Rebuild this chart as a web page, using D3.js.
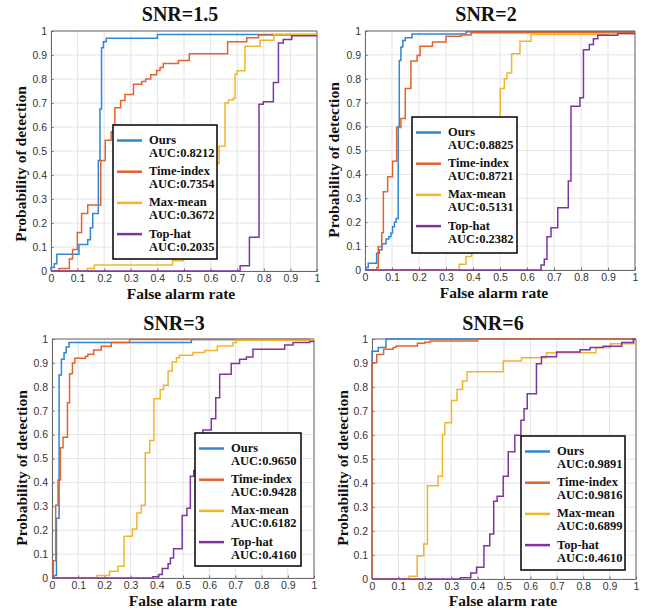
<!DOCTYPE html>
<html>
<head>
<meta charset="utf-8">
<script src="https://cdn.jsdelivr.net/npm/d3@7"></script>
<style>
  html, body { margin: 0; padding: 0; background: #fff; }
  svg { display: block; }
</style>
</head>
<body>
<script>
// ---------------- DATA ----------------
const panelTitles = ["SNR=1.5", "SNR=2", "SNR=3", "SNR=6"];
const methodNames = ["Ours", "Time-index", "Max-mean", "Top-hat"];
const aucValues = [
  ["0.8212", "0.7354", "0.3672", "0.2035"],
  ["0.8825", "0.8721", "0.5131", "0.2382"],
  ["0.9650", "0.9428", "0.6182", "0.4160"],
  ["0.9891", "0.9816", "0.6899", "0.4610"]
];
const tickValues = [0, 0.1, 0.2, 0.3, 0.4, 0.5, 0.6, 0.7, 0.8, 0.9, 1];
const tickLabels = ["0", "0.1", "0.2", "0.3", "0.4", "0.5", "0.6", "0.7", "0.8", "0.9", "1"];
const xLabel = "False alarm rate";
const yLabel = "Probability of detection";

// ROC vertices [false alarm rate, detection probability]; step after each vertex
const s15Ours = [[0,0],[0,0.015],[0.012,0.03],[0.022,0.07],[0.105,0.11],[0.138,0.13],[0.148,0.18],[0.157,0.24],[0.178,0.46],[0.184,0.675],[0.19,0.93],[0.197,0.955],[0.208,0.97],[0.40,0.985],[1,0.985]];
const s15Time = [[0,0],[0.03,0.01],[0.069,0.05],[0.081,0.09],[0.099,0.16],[0.115,0.24],[0.138,0.275],[0.187,0.46],[0.204,0.545],[0.226,0.58],[0.24,0.68],[0.262,0.71],[0.278,0.735],[0.31,0.778],[0.341,0.79],[0.356,0.80],[0.375,0.818],[0.397,0.835],[0.41,0.848],[0.422,0.865],[0.479,0.877],[0.52,0.905],[0.664,0.955],[0.736,0.972],[0.78,0.983],[1,0.983]];
const s15Max = [[0,0],[0.137,0.01],[0.163,0.025],[0.457,0.043],[0.497,0.05],[0.55,0.1],[0.59,0.25],[0.62,0.448],[0.632,0.52],[0.654,0.70],[0.667,0.712],[0.685,0.72],[0.692,0.82],[0.70,0.834],[0.729,0.936],[0.786,0.961],[0.838,0.985],[1,0.985]];
const s15Top = [[0,0],[0.711,0.022],[0.746,0.141],[0.782,0.695],[0.798,0.705],[0.836,0.785],[0.855,0.95],[0.873,0.965],[0.905,0.98],[1,0.98]];

const s2Ours = [[0,0],[0.004,0.01],[0.012,0.028],[0.043,0.07],[0.053,0.085],[0.063,0.11],[0.078,0.13],[0.088,0.139],[0.096,0.155],[0.102,0.181],[0.109,0.2],[0.115,0.216],[0.123,0.6],[0.127,0.877],[0.133,0.933],[0.14,0.96],[0.149,0.972],[0.174,0.987],[0.374,0.997],[1,0.997]];
const s2Time = [[0,0],[0.044,0.01],[0.049,0.097],[0.062,0.156],[0.068,0.327],[0.084,0.39],[0.102,0.455],[0.117,0.596],[0.133,0.634],[0.149,0.759],[0.17,0.875],[0.193,0.898],[0.204,0.936],[0.25,0.954],[0.3,0.978],[0.356,0.983],[0.393,0.993],[1,0.993]];
const s2Max = [[0,0],[0.349,0.024],[0.374,0.056],[0.395,0.074],[0.43,0.12],[0.46,0.3],[0.485,0.5],[0.501,0.759],[0.516,0.80],[0.526,0.824],[0.543,0.905],[0.574,0.957],[0.615,0.985],[0.899,0.99],[1,0.99]];
const s2Top = [[0,0],[0.652,0.021],[0.664,0.045],[0.674,0.139],[0.689,0.177],[0.714,0.26],[0.753,0.372],[0.763,0.685],[0.796,0.721],[0.809,0.922],[0.831,0.943],[0.846,0.968],[0.862,0.982],[0.936,0.99],[1,0.99]];

const s3Ours = [[0,0],[0.008,0.01],[0.017,0.25],[0.027,0.849],[0.036,0.915],[0.046,0.942],[0.054,0.967],[0.065,0.985],[0.532,0.998],[1,0.998]];
const s3Time = [[0,0],[0.005,0.072],[0.014,0.304],[0.023,0.41],[0.032,0.545],[0.042,0.589],[0.059,0.733],[0.067,0.855],[0.078,0.9],[0.087,0.919],[0.128,0.928],[0.137,0.936],[0.159,0.954],[0.188,0.97],[0.226,0.985],[0.296,0.998],[1,0.998]];
const s3Max = [[0,0],[0.172,0.01],[0.22,0.028],[0.252,0.049],[0.275,0.175],[0.307,0.205],[0.324,0.272],[0.341,0.304],[0.356,0.524],[0.373,0.575],[0.389,0.75],[0.413,0.789],[0.426,0.806],[0.443,0.866],[0.459,0.904],[0.475,0.922],[0.487,0.932],[0.538,0.943],[0.583,0.952],[0.631,0.971],[0.691,0.985],[0.704,0.995],[0.99,1],[1,1]];
const s3Top = [[0,0],[0.385,0.005],[0.408,0.015],[0.421,0.04],[0.443,0.06],[0.452,0.084],[0.464,0.122],[0.497,0.261],[0.515,0.292],[0.528,0.426],[0.541,0.45],[0.56,0.52],[0.576,0.619],[0.608,0.666],[0.625,0.754],[0.64,0.852],[0.684,0.897],[0.716,0.915],[0.742,0.925],[0.767,0.957],[0.888,0.975],[0.92,0.985],[0.983,0.99],[1,0.99]];

const s6Ours = [[0,0],[0,0.949],[0.024,0.965],[0.053,1],[1,1]];
const s6Time = [[0,0],[0,0.901],[0.018,0.935],[0.044,0.957],[0.08,0.965],[0.091,0.971],[0.172,0.982],[0.2,0.986],[0.22,0.992],[0.40,1],[1,1]];
const s6Max = [[0,0],[0.14,0.011],[0.171,0.097],[0.196,0.146],[0.21,0.389],[0.25,0.428],[0.267,0.602],[0.276,0.651],[0.301,0.744],[0.322,0.79],[0.343,0.825],[0.36,0.864],[0.497,0.908],[0.566,0.922],[0.661,0.943],[0.848,0.965],[0.904,0.98],[0.996,1],[1,1]];
const s6Top = [[0,0],[0.335,0.005],[0.374,0.025],[0.396,0.049],[0.424,0.139],[0.446,0.188],[0.461,0.324],[0.474,0.345],[0.497,0.428],[0.516,0.53],[0.541,0.599],[0.564,0.661],[0.576,0.709],[0.588,0.772],[0.623,0.897],[0.642,0.926],[0.699,0.946],[0.788,0.955],[0.826,0.965],[0.876,0.97],[0.946,0.985],[0.99,1],[1,1]];

const panelSeries = [
  [s15Ours, s15Time, s15Max, s15Top],
  [s2Ours, s2Time, s2Max, s2Top],
  [s3Ours, s3Time, s3Max, s3Top],
  [s6Ours, s6Time, s6Max, s6Top]
];

// ---------------- LAYOUT / STYLE ----------------
const W = 646, H = 612;
const colors = ["#2f86d2", "#e2632c", "#f0b62a", "#7e35a0"];
const serif = "'Liberation Serif', 'Times New Roman', serif";
const sans = "'Liberation Sans', Arial, sans-serif";

const layouts = [
  { l: 51, r: 317, t: 31, b: 271, titleX: 180, titleY: 21, xlX: 181, xlY: 299, ylX: 26, ylY: 164, lg: [113, 125, 104, 134] },
  { l: 365, r: 635, t: 31, b: 270, titleX: 486, titleY: 21, xlX: 494, xlY: 298, ylX: 339, ylY: 160, lg: [412, 117, 105, 136] },
  { l: 52, r: 314, t: 339, b: 578, titleX: 174, titleY: 330, xlX: 183, xlY: 606, ylX: 27, ylY: 468, lg: [195, 433, 106, 133] },
  { l: 372, r: 636, t: 339, b: 579, titleX: 493, titleY: 330, xlX: 503, xlY: 606, ylX: 348, ylY: 468, lg: [521, 436, 104, 134] }
];

const svg = d3.select("body").append("svg")
  .attr("width", W).attr("height", H)
  .attr("viewBox", `0 0 ${W} ${H}`);
svg.append("rect").attr("width", W).attr("height", H).attr("fill", "#fff");

layouts.forEach((L, pi) => {
  const x = d3.scaleLinear().domain([0, 1]).range([L.l, L.r]);
  const y = d3.scaleLinear().domain([0, 1]).range([L.b, L.t]);
  const g = svg.append("g");

  // grid
  const grid = g.append("g").attr("stroke", "#e3e3e3").attr("stroke-width", 1);
  tickValues.forEach(v => {
    grid.append("line").attr("x1", x(v)).attr("x2", x(v)).attr("y1", L.t).attr("y2", L.b);
    grid.append("line").attr("y1", y(v)).attr("y2", y(v)).attr("x1", L.l).attr("x2", L.r);
  });

  // axes via d3-axis
  const xAxis = d3.axisBottom(x).tickValues(tickValues).tickFormat((d, i) => tickLabels[i]).tickSizeInner(-2.5).tickSizeOuter(0).tickPadding(4);
  const yAxis = d3.axisLeft(y).tickValues(tickValues).tickFormat((d, i) => tickLabels[i]).tickSizeInner(-2.5).tickSizeOuter(0).tickPadding(6);
  const xa = g.append("g").attr("transform", `translate(0,${L.b})`).call(xAxis);
  const ya = g.append("g").attr("transform", `translate(${L.l},0)`).call(yAxis);
  [xa, ya].forEach(a => {
    a.select(".domain").attr("stroke", "#6a6a6a");
    a.selectAll(".tick line").attr("stroke", "#6a6a6a");
    a.selectAll(".tick text").attr("fill", "#333").style("font-family", sans).style("font-size", "10.5px");
  });
  ya.selectAll(".tick text").attr("dx", "2");
  // box top/right
  g.append("line").attr("x1", L.l).attr("x2", L.r).attr("y1", L.t).attr("y2", L.t).attr("stroke", "#6a6a6a");
  g.append("line").attr("x1", L.r).attr("x2", L.r).attr("y1", L.t).attr("y2", L.b).attr("stroke", "#6a6a6a");

  // clip
  const cid = "clip" + pi;
  svg.append("clipPath").attr("id", cid).append("rect")
    .attr("x", L.l - 1).attr("y", L.t - 1).attr("width", L.r - L.l + 2).attr("height", L.b - L.t + 2);

  const line = d3.line().x(d => x(d[0])).y(d => y(d[1])).curve(d3.curveStepAfter);
  const lines = g.append("g").attr("clip-path", `url(#${cid})`);
  panelSeries[pi].forEach((s, si) => {
    lines.append("path").datum(s).attr("d", line)
      .attr("fill", "none").attr("stroke", colors[si]).attr("stroke-width", 1.5)
      .attr("stroke-linejoin", "miter");
  });

  // title
  svg.append("text").attr("x", L.titleX).attr("y", L.titleY).attr("text-anchor", "middle")
    .style("font-family", serif).style("font-weight", "bold").style("font-size", "20px").attr("fill", "#111")
    .text(panelTitles[pi]);
  // axis labels
  svg.append("text").attr("x", L.xlX).attr("y", L.xlY).attr("text-anchor", "middle")
    .style("font-family", serif).style("font-weight", "bold").style("font-size", "15.5px").attr("fill", "#111")
    .text(xLabel);
  svg.append("text").attr("transform", `translate(${L.ylX},${L.ylY}) rotate(-90)`).attr("text-anchor", "middle")
    .style("font-family", serif).style("font-weight", "bold").style("font-size", "15.5px").attr("fill", "#111")
    .text(yLabel);

  // legend
  const [lx, ly, lw, lh] = L.lg;
  const lg = svg.append("g").attr("transform", `translate(${lx},${ly})`);
  lg.append("rect").attr("width", lw).attr("height", lh).attr("fill", "#fff")
    .attr("stroke", "#000").attr("stroke-width", 1.5);
  methodNames.forEach((nm, si) => {
    const by = 19 + si * 31.2;
    lg.append("line").attr("x1", 4).attr("x2", 29).attr("y1", by - 3.5).attr("y2", by - 3.5)
      .attr("stroke", colors[si]).attr("stroke-width", 2.5);
    lg.append("text").attr("x", 36).attr("y", by)
      .style("font-family", serif).style("font-weight", "bold").style("font-size", "12.5px").attr("fill", "#111")
      .text(nm);
    lg.append("text").attr("x", 36).attr("y", by + 13)
      .style("font-family", serif).style("font-weight", "bold").style("font-size", "12.5px").attr("fill", "#111")
      .text("AUC:" + aucValues[pi][si]);
  });
});
</script>
</body>
</html>
